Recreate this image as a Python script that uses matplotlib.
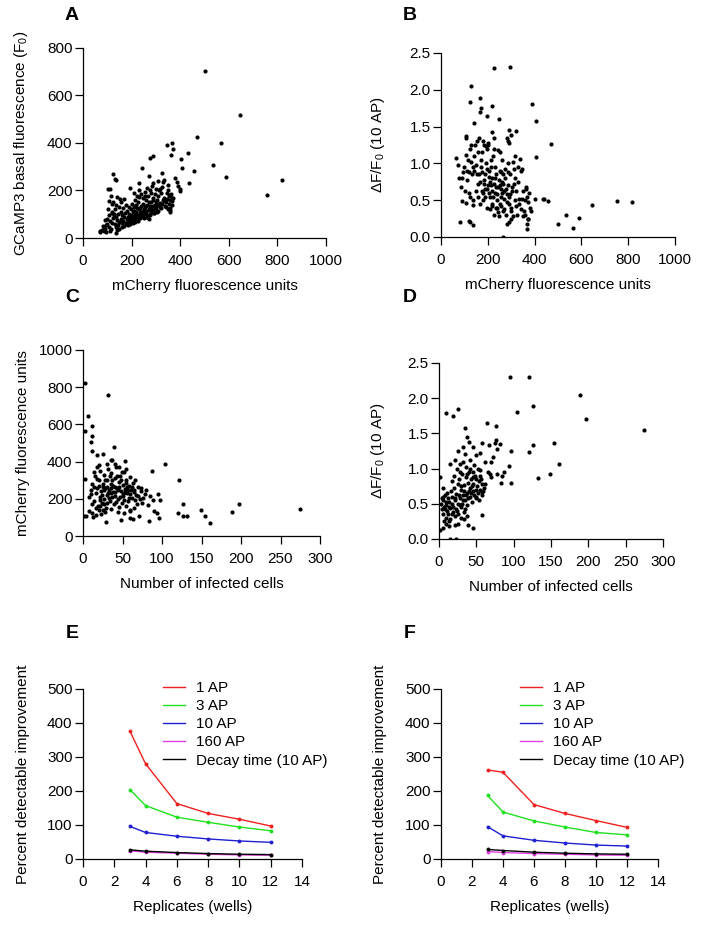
import matplotlib
matplotlib.use("Agg")
import matplotlib.pyplot as plt
from matplotlib.lines import Line2D
from matplotlib.transforms import blended_transform_factory

plt.rcParams['font.family'] = ['Liberation Sans', 'DejaVu Sans']
plt.rcParams['mathtext.fontset'] = 'custom'
plt.rcParams['mathtext.rm'] = 'Liberation Sans'
plt.rcParams['mathtext.it'] = 'Liberation Sans:italic'
plt.rcParams['mathtext.bf'] = 'Liberation Sans:bold'

# ---------------- Panel A: mCherry vs GCaMP3 F0 ----------------
a_mcherry = [503, 645, 471, 567, 367, 347, 371, 363, 434, 405, 408, 536, 456, 590, 438, 401, 756, 819,
             123, 130, 137, 101, 110, 115, 140, 151, 105, 123, 119, 134, 103, 121, 126, 136, 68,
             70, 78, 85, 90, 95, 100, 105, 110, 115, 120, 125, 100, 92, 108, 118, 128, 88, 96, 112, 82,
             130, 135, 140, 145, 150, 155, 160, 165, 170, 175, 180, 135, 145, 155, 165, 175, 140, 150, 160, 170, 178, 132, 148, 162, 172, 180, 158, 168,
             185, 190, 195, 200, 205, 210, 215, 220, 225, 230, 235, 240, 188, 198, 208, 218, 228, 238, 185, 195, 205, 215, 225, 232, 190, 200, 212, 222, 196, 206, 214, 224, 234, 186, 192, 202, 218, 228, 236, 240, 245, 210,
             245, 250, 255, 260, 265, 270, 275, 280, 285, 290, 295, 300, 248, 258, 268, 278, 288, 298, 252, 262, 272, 282, 292, 250, 260, 270, 280, 290, 300, 255, 265, 275, 285, 295, 305, 310, 245, 255, 265, 275, 285, 230, 240,
             305, 310, 315, 320, 325, 330, 335, 340, 345, 350, 355, 360, 365, 348, 358, 366, 362, 340, 325, 330, 318, 335, 348, 358, 366, 370, 377, 385, 393, 400, 359, 356, 312, 300, 290, 310, 325, 270, 230, 194, 208, 229, 256, 244, 277, 290,
             198, 212, 226, 242, 258, 272, 286, 302, 318, 332, 346, 262, 276, 292, 308, 322, 338, 352]
a_f0 = [704, 517, 424, 401, 401, 392, 375, 350, 359, 334, 295, 308, 281, 256, 231, 207, 183, 243,
        270, 249, 245, 205, 205, 175, 171, 165, 157, 152, 144, 141, 123, 106, 102, 21, 25,
        28, 35, 45, 38, 55, 60, 48, 70, 40, 65, 85, 82, 75, 95, 110, 95, 30, 25, 30, 52,
        60, 45, 75, 55, 68, 80, 62, 72, 90, 58, 78, 90, 100, 110, 125, 140, 35, 40, 48, 52, 65, 120, 130, 95, 105, 115, 150, 165,
        70, 85, 60, 95, 75, 100, 80, 110, 90, 120, 85, 105, 100, 120, 130, 140, 150, 135, 55, 72, 62, 68, 72, 95, 130, 145, 160, 175, 88, 108, 92, 125, 110, 90, 65, 80, 100, 82, 125, 90, 95, 115,
        115, 100, 130, 110, 140, 120, 100, 150, 130, 160, 140, 120, 145, 160, 175, 190, 170, 185, 85, 90, 80, 110, 105, 122, 135, 150, 125, 135, 150, 105, 95, 135, 115, 120, 160, 140, 170, 195, 210, 200, 220, 200, 185,
        110, 175, 130, 190, 145, 160, 170, 150, 190, 200, 175, 160, 140, 120, 110, 170, 185, 130, 215, 235, 205, 245, 224, 182, 154, 168, 252, 234, 220, 199, 128, 116, 200, 205, 230, 238, 273, 259, 231, 210, 189, 172, 175, 294, 338, 345,
        78, 86, 96, 102, 112, 118, 128, 136, 146, 156, 166, 88, 95, 104, 115, 125, 135, 145]

# ---------------- Panel B: mCherry vs dF/F0 (10 AP) ----------------
b_mcherry = [225, 297, 128, 122, 166, 169, 168, 216, 196, 246, 139, 387, 408, 290, 319, 300, 280, 287, 216, 225, 107, 108, 162, 471, 64, 405, 74, 78, 90, 85, 101, 90, 105, 81, 121, 126, 136, 136, 267, 283, 290, 368, 367, 371, 401, 434, 441, 457, 502, 535, 563, 589, 644, 754, 818, 384,
             105, 110, 115, 120, 125, 130, 135, 140, 145, 150, 155, 160, 112, 122, 118, 132, 142, 152, 158, 100, 96, 128, 148, 138, 158,
             165, 170, 175, 180, 185, 190, 195, 200, 205, 210, 215, 220, 168, 178, 188, 198, 208, 218, 172, 182, 192, 202, 212, 222, 176, 186, 196, 206, 216, 180, 192, 200, 210, 220, 214, 205, 195, 185, 163, 175,
             225, 230, 235, 240, 245, 250, 255, 260, 265, 270, 275, 280, 228, 238, 248, 258, 268, 278, 232, 242, 252, 262, 272, 226, 236, 246, 256, 266, 276, 230, 240, 250, 260, 270, 234, 244, 254, 264, 224, 258,
             285, 290, 295, 300, 305, 310, 315, 320, 325, 330, 335, 340, 345, 350, 355, 360, 365, 370, 375, 380, 288, 298, 308, 318, 328, 338, 348, 358, 368, 292, 302, 312, 322, 332, 342, 352, 362, 372, 286, 296, 306, 316, 290, 300, 282]
b_dff = [2.30, 2.31, 2.05, 1.84, 1.89, 1.75, 1.70, 1.78, 1.65, 1.61, 1.55, 1.81, 1.57, 1.46, 1.44, 1.38, 1.35, 1.30, 1.42, 1.35, 1.37, 1.34, 1.35, 1.26, 1.08, 1.09, 0.98, 0.80, 0.80, 0.68, 0.63, 0.49, 0.46, 0.20, 0.22, 0.20, 0.16, 0.43, 0.00, 0.18, 0.21, 0.17, 0.11, 0.24, 0.52, 0.52, 0.52, 0.49, 0.17, 0.30, 0.12, 0.26, 0.43, 0.49, 0.48, 0.36,
         1.12, 0.90, 1.05, 0.88, 1.20, 1.25, 0.95, 1.10, 1.25, 0.98, 1.30, 1.15, 0.78, 0.55, 0.60, 0.85, 0.90, 0.85, 0.72, 0.95, 0.88, 1.02, 0.62, 0.50, 0.55,
         0.75, 0.95, 1.15, 0.60, 1.25, 0.85, 1.20, 0.70, 0.90, 0.55, 1.05, 0.80, 0.45, 0.50, 0.65, 0.40, 0.75, 0.62, 1.05, 0.78, 1.00, 1.25, 0.95, 1.10, 0.88, 0.55, 0.92, 0.82, 0.45, 1.30, 1.23, 1.28, 0.38, 0.42, 0.70, 0.60, 0.65, 0.72, 0.85, 0.62,
         0.72, 0.60, 0.85, 0.40, 0.68, 0.90, 0.55, 0.75, 0.35, 0.62, 0.80, 0.48, 0.30, 0.50, 0.28, 0.42, 0.52, 0.65, 0.95, 1.18, 1.15, 1.05, 0.92, 1.20, 0.68, 0.78, 0.65, 0.72, 0.30, 0.80, 0.58, 0.45, 0.60, 0.38, 0.40, 0.34, 0.70, 0.85, 0.55, 0.88,
         0.70, 0.55, 0.85, 0.40, 0.68, 0.92, 0.50, 0.62, 0.30, 0.75, 0.45, 0.90, 0.52, 0.62, 0.35, 0.50, 0.68, 0.48, 0.60, 0.40, 1.00, 0.25, 0.28, 0.80, 0.95, 1.06, 0.92, 0.30, 0.55, 0.45, 0.62, 0.72, 0.42, 0.52, 0.38, 0.28, 0.65, 0.25, 0.88, 0.58, 1.02, 1.10, 1.28, 0.35, 0.58]

# ---------------- Panel C: infected cells vs mCherry ----------------
c_cells = [2.5, 32, 6, 2, 11, 11, 10, 12, 18, 25, 39, 35, 37, 53, 104, 87, 121, 2, 95, 97, 126, 94, 96, 120, 126, 132, 149, 154, 161, 188, 197, 275, 83, 71, 60, 63, 48, 29, 1, 4, 8, 12, 17, 13, 23, 25,
           8, 10, 12, 14, 15, 16, 18, 19, 20, 21, 22, 23, 24, 25, 26, 27, 28, 29, 30, 31, 32, 33, 34, 35, 36, 37, 38, 39, 40, 41, 42, 43, 44, 45, 46, 47, 48, 49, 50, 51, 52, 53, 54, 55, 56, 57, 58, 59, 60, 61, 62, 63, 64, 65, 66, 67, 68, 70, 72, 74, 75, 78, 80,
           10, 14, 18, 22, 26, 30, 34, 38, 42, 46, 50, 54, 58, 62, 66, 20, 24, 28, 32, 36, 40, 44, 48, 52, 56, 60, 64, 16, 20, 28, 36, 44, 52, 60, 12, 40, 45, 55, 30, 18, 14, 20, 22, 27, 33, 41, 47, 53, 57, 35, 31, 25, 37, 43, 49, 69, 73, 76, 82, 85, 90, 88]
c_mcherry = [820, 756, 646, 566, 592, 537, 503, 458, 436, 442, 476, 409, 408, 404, 388, 350, 300, 309, 226, 194, 171, 124, 99, 126, 106, 106, 138, 110, 68, 129, 174, 144, 79, 108, 97, 92, 86, 77, 110, 110, 135, 126, 111, 102, 120, 138,
             210, 250, 280, 190, 320, 230, 260, 160, 300, 210, 350, 240, 180, 280, 330, 200, 260, 150, 300, 220, 360, 250, 190, 280, 340, 210, 270, 170, 310, 235, 370, 260, 200, 290, 155, 320, 240, 180, 275, 215, 345, 255, 160, 300, 230, 190, 270, 140, 315, 245, 205, 285, 150, 250, 300, 220, 170, 265, 200, 240, 180, 225, 250,
             225, 265, 305, 195, 245, 175, 325, 235, 185, 265, 225, 285, 205, 265, 195, 270, 220, 300, 230, 260, 215, 245, 300, 195, 265, 225, 235, 150, 140, 130, 145, 130, 125, 132, 170, 385, 370, 360, 385, 370, 345, 380, 160, 170, 205, 265, 210, 235, 250, 230, 265, 265, 300, 320, 345, 215, 260, 205, 165, 215, 135, 195]

# ---------------- Panel D: infected cells vs dF/F0 (10 AP) ----------------
d_cells = [95, 121, 189, 126, 105, 197, 275, 10, 19, 26, 64, 77, 35, 77, 75, 58, 67, 96, 120, 126, 154, 161, 132, 149, 96, 83, 87, 94, 2, 15, 23, 5, 2, 45, 39, 58,
           26, 32, 38, 40, 28, 15, 22, 35, 45, 50, 55, 62, 70, 72, 78, 82, 84, 70, 65, 62, 58, 68, 78, 55,
           3, 4, 5, 6, 7, 8, 9, 10, 11, 12, 13, 14, 15, 16, 17, 18, 19, 20, 21, 22, 23, 24, 25, 26, 27, 28, 29, 30, 31, 32, 33, 34, 35, 36, 37, 38, 39, 40, 41, 42, 43, 44, 45, 46, 47, 48, 49, 50, 51, 52, 53, 54, 55, 56, 58, 60,
           5, 7, 9, 11, 13, 15, 17, 19, 21, 23, 25, 27, 29, 31, 33, 35, 37, 39, 41, 43, 45, 47, 49, 20, 24, 18, 28, 32, 36, 42, 46, 50, 30, 34, 38, 26, 22, 14, 10, 12, 8, 4, 6, 52, 55, 57, 59, 44, 40, 36, 32, 28]
d_dff = [2.30, 2.30, 2.05, 1.89, 1.81, 1.70, 1.55, 1.79, 1.75, 1.84, 1.65, 1.60, 1.57, 1.41, 1.36, 1.36, 1.33, 1.25, 1.24, 1.33, 1.36, 1.07, 0.87, 0.92, 0.80, 0.80, 0.95, 1.03, 0.88, 0.00, 0.00, 0.16, 0.13, 0.16, 0.20, 0.34,
         1.25, 1.30, 1.45, 1.38, 1.07, 1.06, 1.12, 1.21, 1.31, 1.20, 1.22, 1.10, 1.10, 1.16, 1.28, 1.35, 0.90, 0.88, 0.95, 0.78, 0.67, 0.92, 0.92, 0.98,
         0.50, 0.42, 0.35, 0.55, 0.45, 0.62, 0.30, 0.48, 0.40, 0.58, 0.25, 0.52, 0.44, 0.68, 0.36, 0.60, 0.46, 0.72, 0.32, 0.55, 0.64, 0.40, 0.78, 0.50, 0.85, 0.58, 0.45, 0.70, 0.92, 0.62, 0.38, 0.76, 0.55, 0.88, 0.66, 0.48, 0.80, 0.95, 0.60, 0.72, 0.85, 0.52, 0.68, 0.78, 0.62, 0.90, 0.70, 0.58, 0.75, 0.66, 0.82, 0.55, 0.70, 0.85, 0.62, 0.72,
         0.60, 0.25, 0.52, 0.65, 0.45, 0.28, 0.50, 0.38, 0.58, 0.42, 0.35, 0.62, 0.75, 0.50, 0.68, 0.42, 0.92, 0.58, 1.00, 0.65, 0.88, 1.05, 0.60, 0.90, 1.00, 0.82, 0.95, 1.10, 1.02, 1.12, 0.95, 0.85, 0.30, 0.28, 0.32, 0.22, 0.20, 0.18, 0.22, 0.35, 0.42, 0.58, 0.72, 1.00, 0.90, 0.78, 0.68, 0.75, 0.68, 0.62, 0.55, 0.48]

# ---------------- Panels E, F: percent detectable improvement ----------------
replicates = [3, 4, 6, 8, 10, 12]
series_labels = ['1 AP', '3 AP', '10 AP', '160 AP', 'Decay time (10 AP)']
series_colors = ['#f02020', '#20e020', '#2020d0', '#e040e0', '#000000']
e_values = [
    [376, 280, 163, 134, 117, 97],
    [204, 157, 123, 108, 94, 83],
    [96, 78, 67, 59, 53, 49],
    [24, 20, 17, 14, 12, 11],
    [27, 23, 19, 16, 14, 13],
]
f_values = [
    [262, 255, 160, 134, 113, 93],
    [187, 138, 112, 94, 78, 71],
    [95, 68, 55, 47, 41, 38],
    [22, 19, 16, 14, 12, 11],
    [28, 25, 20, 17, 15, 14],
]

W, H = 702, 932
fig = plt.figure(figsize=(W / 100, H / 100), dpi=100)

def add_axes(left, top, right, bottom):
    return fig.add_axes([left / W, 1 - bottom / H, (right - left) / W, (bottom - top) / H])

FS = 11

def style(ax):
    for s in ['top', 'right']:
        ax.spines[s].set_visible(False)
    for s in ['left', 'bottom']:
        ax.spines[s].set_linewidth(0.9)
    ax.tick_params(axis='y', direction='out', length=5.5, width=0.9, pad=2, labelsize=FS)
    ax.tick_params(axis='x', direction='out', length=5.5, width=0.9, pad=6, labelsize=FS)

def ylabel_at(ax, text, xpx):
    ax.set_ylabel(text, fontsize=FS)
    tr = blended_transform_factory(fig.transFigure, ax.transAxes)
    ax.yaxis.set_label_coords(xpx / W, 0.5, transform=tr)

axA = add_axes(83, 48, 326, 238)
axB = add_axes(441, 53, 675, 237)
axC = add_axes(83, 350, 320, 536)
axD = add_axes(439, 363, 663, 539)
axE = add_axes(83, 689, 302, 859)
axF = add_axes(441, 689, 658, 859)

ms = 9
axA.scatter(a_mcherry, a_f0, s=ms, c='black', linewidths=0)
axA.set_xlim(0, 1000); axA.set_ylim(0, 800)
axA.set_xticks(range(0, 1001, 200)); axA.set_yticks(range(0, 801, 200))
axA.set_xlabel('mCherry fluorescence units', fontsize=FS, labelpad=8)
ylabel_at(axA, 'GCaMP3 basal fluorescence (F$_0$)', 30)

axB.scatter(b_mcherry, b_dff, s=ms, c='black', linewidths=0)
axB.set_xlim(0, 1000); axB.set_ylim(0, 2.5)
axB.set_xticks(range(0, 1001, 200)); axB.set_yticks([0, 0.5, 1.0, 1.5, 2.0, 2.5])
axB.set_yticklabels(['0.0', '0.5', '1.0', '1.5', '2.0', '2.5'])
axB.set_xlabel('mCherry fluorescence units', fontsize=FS, labelpad=8)
ylabel_at(axB, '\u0394F/F$_0$ (10 AP)', 387)

axC.scatter(c_cells, c_mcherry, s=ms, c='black', linewidths=0)
axC.set_xlim(0, 300); axC.set_ylim(0, 1000)
axC.set_xticks(range(0, 301, 50)); axC.set_yticks(range(0, 1001, 200))
axC.set_xlabel('Number of infected cells', fontsize=FS, labelpad=8)
ylabel_at(axC, 'mCherry fluorescence units', 30)

axD.scatter(d_cells, d_dff, s=ms, c='black', linewidths=0)
axD.set_xlim(0, 300); axD.set_ylim(0, 2.5)
axD.set_xticks(range(0, 301, 50)); axD.set_yticks([0, 0.5, 1.0, 1.5, 2.0, 2.5])
axD.set_yticklabels(['0.0', '0.5', '1.0', '1.5', '2.0', '2.5'])
axD.set_xlabel('Number of infected cells', fontsize=FS, labelpad=8)
ylabel_at(axD, '\u0394F/F$_0$ (10 AP)', 387)

for ax, vals, legx in [(axE, e_values, 163), (axF, f_values, 520)]:
    for v, col in zip(vals, series_colors):
        ax.plot(replicates, v, color=col, lw=1.0, marker='o', markersize=2.8, markeredgewidth=0)
    ax.set_xlim(0, 14); ax.set_ylim(0, 500)
    ax.set_xticks(range(0, 15, 2)); ax.set_yticks(range(0, 501, 100))
    ax.set_xlabel('Replicates (wells)', fontsize=FS, labelpad=8)
    handles = [Line2D([0], [0], color=c, lw=1.0) for c in series_colors]
    fig.legend(handles, series_labels, loc='upper left', bbox_to_anchor=(legx / W, 1 - 681 / H),
               frameon=False, fontsize=FS, handlelength=1.45, handletextpad=0.7,
               labelspacing=0.27, borderpad=0, borderaxespad=0)
ylabel_at(axE, 'Percent detectable improvement', 30)
ylabel_at(axF, 'Percent detectable improvement', 387)

for ax in [axA, axB, axC, axD, axE, axF]:
    style(ax)

for letter, x, y in [('A', 72, 15), ('B', 410, 15), ('C', 72, 298), ('D', 410, 298), ('E', 72, 633), ('F', 410, 633)]:
    fig.text(x / W, 1 - y / H, letter, fontsize=14, fontweight='bold', ha='center', va='center')

fig.savefig('out.png', dpi=100)
